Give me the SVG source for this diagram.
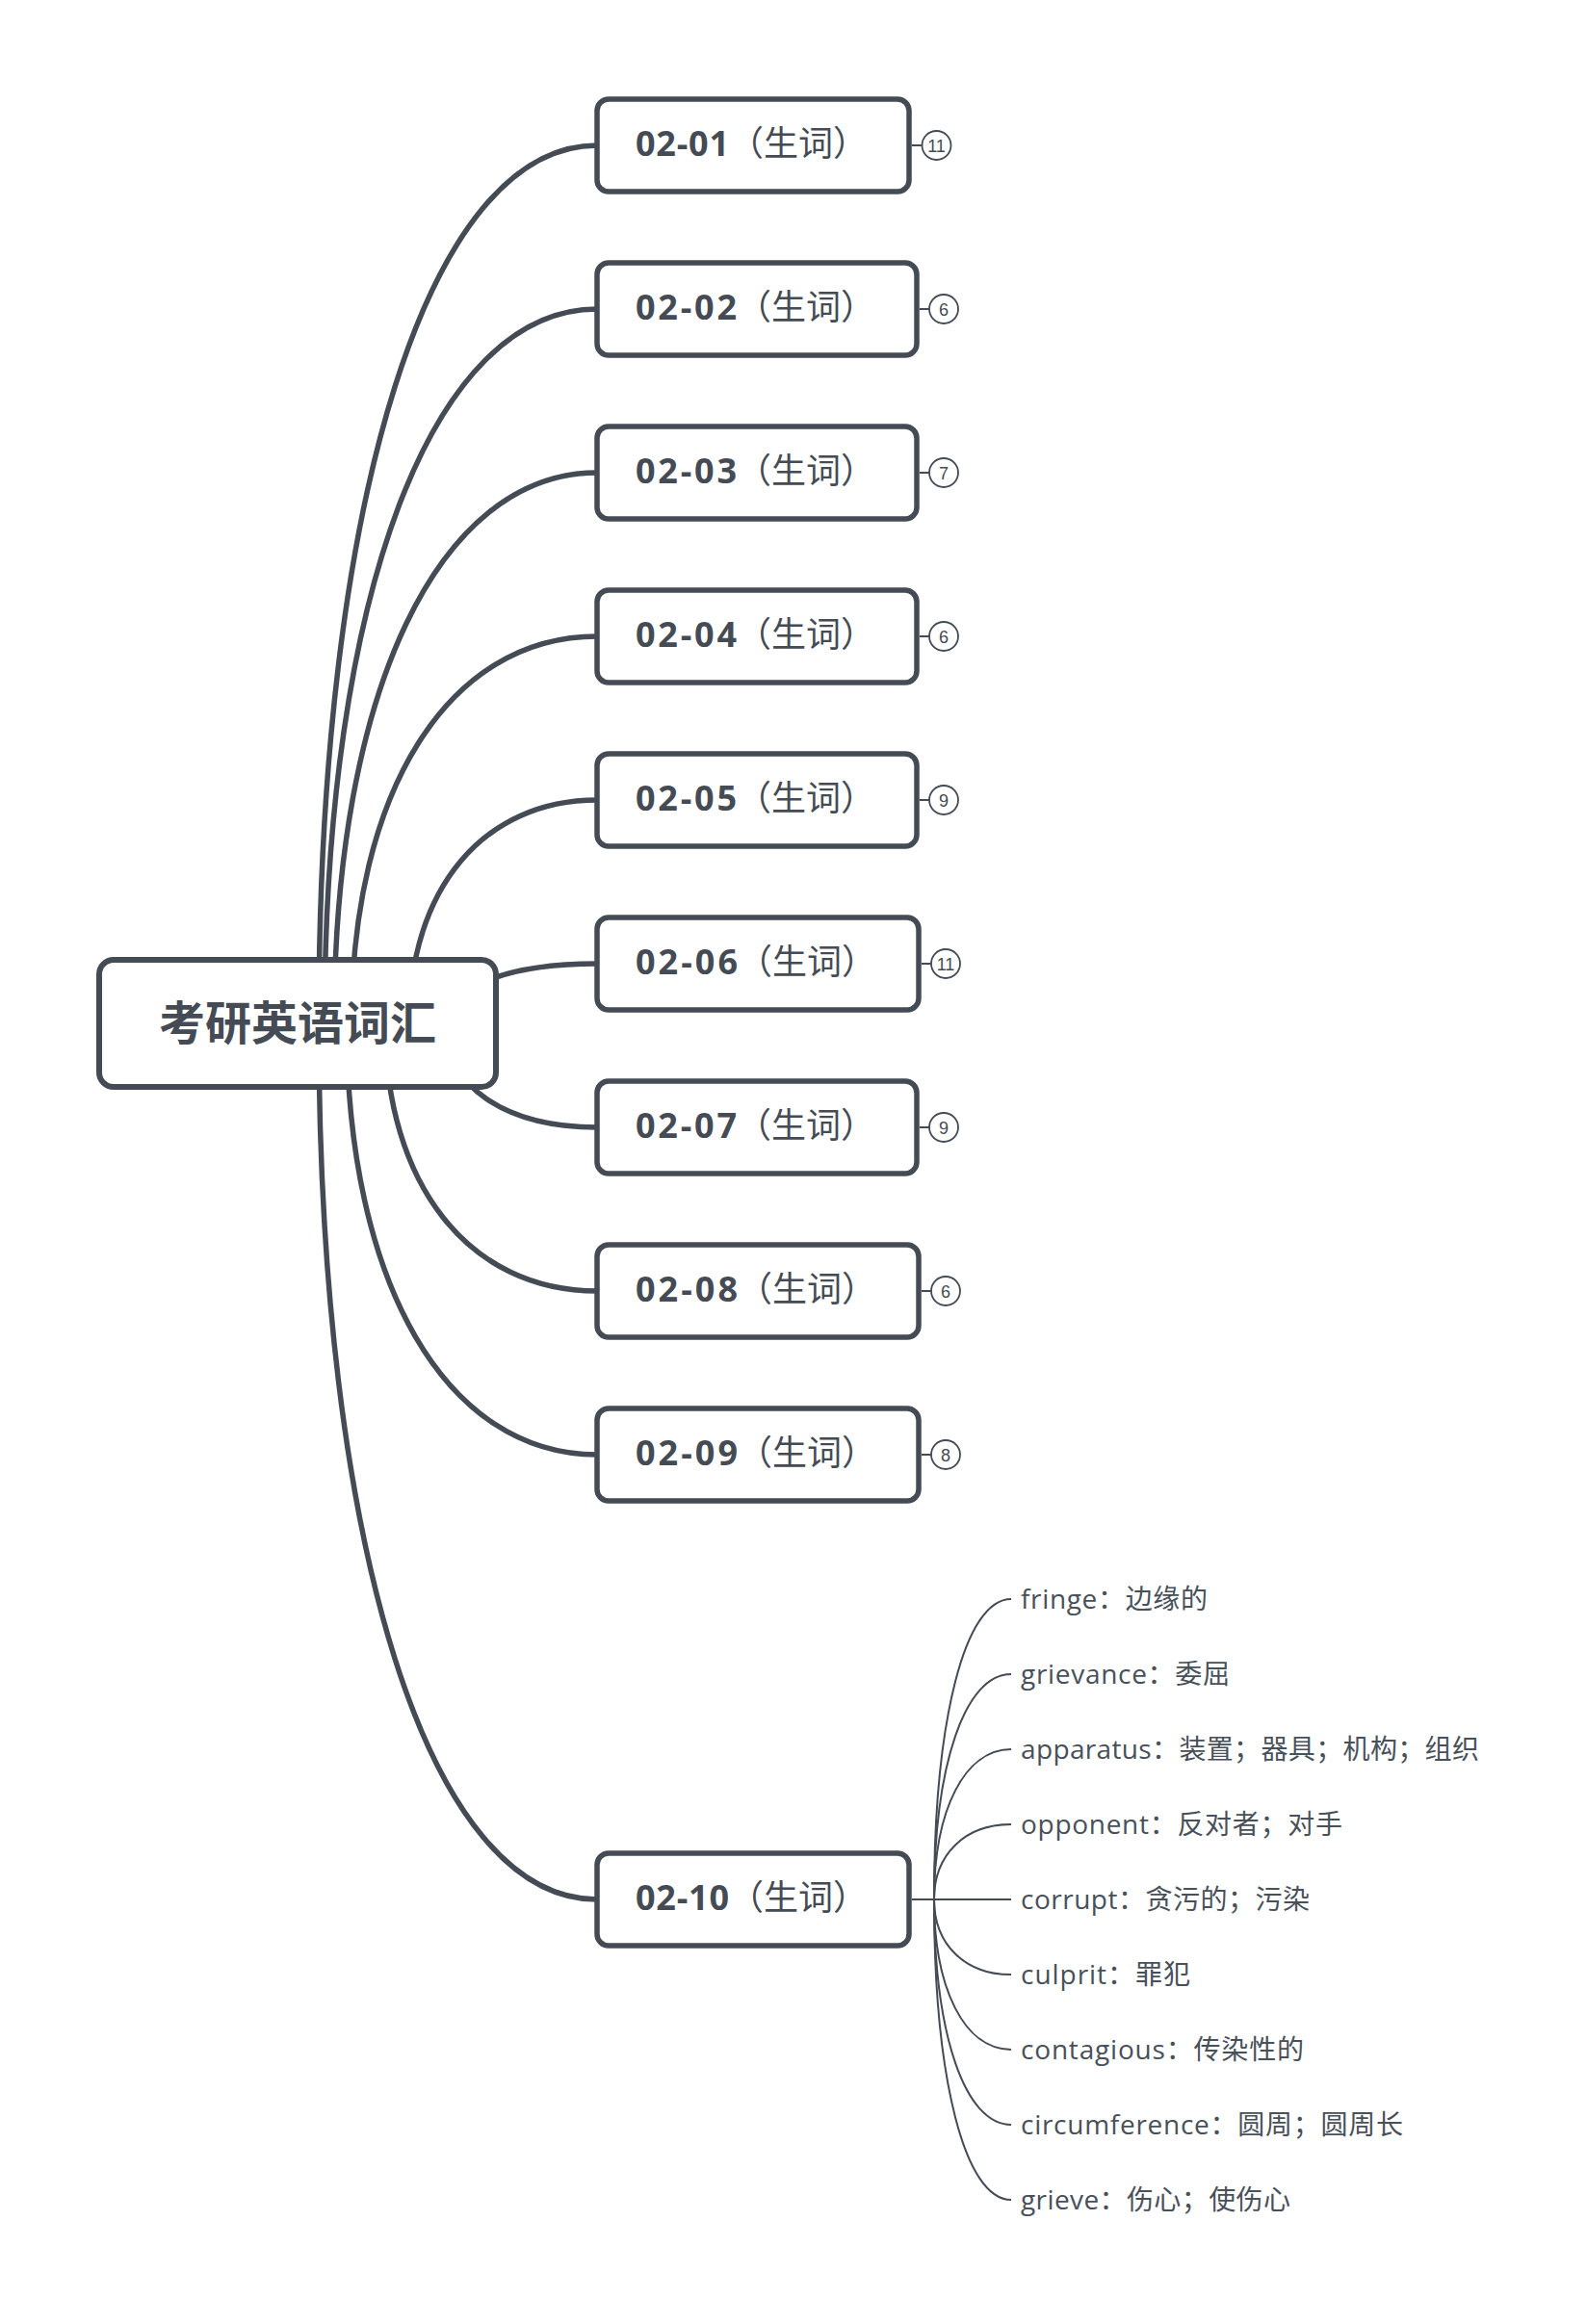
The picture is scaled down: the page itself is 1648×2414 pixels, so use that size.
<svg xmlns="http://www.w3.org/2000/svg" width="1648" height="2414" viewBox="0 0 1648 2414">
  <style>
    .bg { fill: #ffffff; }
    .main-line { fill: none; stroke: #444b55; stroke-width: 5.5; stroke-linecap: round; }
    .leaf-line { fill: none; stroke: #444b55; stroke-width: 2; }
    .badge-line { fill: none; stroke: #444b55; stroke-width: 2; }
    .root-box { fill: #ffffff; stroke: #444b55; stroke-width: 6; }
    .topic-box { fill: #ffffff; stroke: #444b55; stroke-width: 5.5; }
    .badge { fill: #ffffff; stroke: #444b55; stroke-width: 1.8; }
    .root-text { font-family: "Noto Sans CJK SC", "Noto Sans", sans-serif; font-size: 48px; font-weight: 700; fill: #444b55; }
    .topic-text { font-family: "Open Sans", "Noto Sans CJK SC", sans-serif; font-size: 36px; fill: #444b55; }
    .num { font-weight: 700; }
    .cjk { font-family: "Noto Sans CJK SC", sans-serif; font-weight: 400; }
    .badge-text { font-family: "Liberation Sans", Arial, sans-serif; font-size: 18px; fill: #444b55; }
    .leaf-text { font-family: "Open Sans", "Noto Sans CJK SC", sans-serif; font-size: 28px; fill: #48505a; }
  </style>

  <rect class="bg" x="0" y="0" width="1648" height="2414"/>

  <!-- connectors: root branches, count badges, word leaves -->
  <g id="connectors">
    <path class="main-line" d="M331,1063 C331,515.8 445.4,151 620,151"/>
    <path class="main-line" d="M337,1063 C337,617.8 449,321 620,321"/>
    <path class="main-line" d="M347,1063 C347,719.8 455,491 620,491"/>
    <path class="main-line" d="M365,1063 C365,821.8 465.8,661 620,661"/>
    <path class="main-line" d="M425,1063 C425,923.8 501.8,831 620,831"/>
    <path class="main-line" d="M465,1063 C465,1025.8 525.8,1001 620,1001"/>
    <path class="main-line" d="M462,1063 C462,1127.8 524,1171 620,1171"/>
    <path class="main-line" d="M400,1063 C400,1229.8 486.8,1341 620,1341"/>
    <path class="main-line" d="M360,1063 C360,1331.8 462.8,1511 620,1511"/>
    <path class="main-line" d="M331,1063 C331,1609 445.4,1973 620,1973"/>

    <line class="badge-line" x1="947" y1="151" x2="957.5" y2="151"/>
    <line class="badge-line" x1="955" y1="321" x2="965" y2="321"/>
    <line class="badge-line" x1="955" y1="491" x2="965" y2="491"/>
    <line class="badge-line" x1="955" y1="661" x2="965" y2="661"/>
    <line class="badge-line" x1="955" y1="831" x2="965" y2="831"/>
    <line class="badge-line" x1="957" y1="1001" x2="967" y2="1001"/>
    <line class="badge-line" x1="955" y1="1171" x2="965" y2="1171"/>
    <line class="badge-line" x1="957" y1="1341" x2="967" y2="1341"/>
    <line class="badge-line" x1="957" y1="1511" x2="967" y2="1511"/>

    <line class="leaf-line" x1="947" y1="1973" x2="1050" y2="1973"/>
    <path class="leaf-line" d="M970,1973 C970,1785.8 1002,1661 1050,1661"/>
    <path class="leaf-line" d="M970,1973 C970,1832.6 1002,1739 1050,1739"/>
    <path class="leaf-line" d="M970,1973 C970,1879.4 1002,1817 1050,1817"/>
    <path class="leaf-line" d="M970,1973 C970,1926.2 1002,1895 1050,1895"/>
    <path class="leaf-line" d="M970,1973 C970,2019.8 1002,2051 1050,2051"/>
    <path class="leaf-line" d="M970,1973 C970,2066.6 1002,2129 1050,2129"/>
    <path class="leaf-line" d="M970,1973 C970,2113.4 1002,2207 1050,2207"/>
    <path class="leaf-line" d="M970,1973 C970,2160.2 1002,2285 1050,2285"/>
  </g>

  <!-- central topic -->
  <g id="root">
    <rect class="root-box" x="103" y="997" width="412" height="132" rx="15"/>
    <text class="root-text" x="309" y="1080" text-anchor="middle">考研英语词汇</text>
  </g>

  <!-- main topics -->
  <g id="topic-0201">
    <rect class="topic-box" x="620" y="103" width="324" height="96" rx="12"/>
    <text class="topic-text" x="660" y="162"><tspan class="num" textLength="97">02-01</tspan><tspan class="cjk" x="757">（生词）</tspan></text>
    <circle class="badge" cx="972.5" cy="151" r="15"/>
    <text class="badge-text" x="972.5" y="157.5" text-anchor="middle">11</text>
  </g>
  <g id="topic-0202">
    <rect class="topic-box" x="620" y="273" width="332" height="96" rx="12"/>
    <text class="topic-text" x="660" y="332"><tspan class="num" textLength="105">02-02</tspan><tspan class="cjk" x="765">（生词）</tspan></text>
    <circle class="badge" cx="980" cy="321" r="15"/>
    <text class="badge-text" x="980" y="327.5" text-anchor="middle">6</text>
  </g>
  <g id="topic-0203">
    <rect class="topic-box" x="620" y="443" width="332" height="96" rx="12"/>
    <text class="topic-text" x="660" y="502"><tspan class="num" textLength="105">02-03</tspan><tspan class="cjk" x="765">（生词）</tspan></text>
    <circle class="badge" cx="980" cy="491" r="15"/>
    <text class="badge-text" x="980" y="497.5" text-anchor="middle">7</text>
  </g>
  <g id="topic-0204">
    <rect class="topic-box" x="620" y="613" width="332" height="96" rx="12"/>
    <text class="topic-text" x="660" y="672"><tspan class="num" textLength="105">02-04</tspan><tspan class="cjk" x="765">（生词）</tspan></text>
    <circle class="badge" cx="980" cy="661" r="15"/>
    <text class="badge-text" x="980" y="667.5" text-anchor="middle">6</text>
  </g>
  <g id="topic-0205">
    <rect class="topic-box" x="620" y="783" width="332" height="96" rx="12"/>
    <text class="topic-text" x="660" y="842"><tspan class="num" textLength="105">02-05</tspan><tspan class="cjk" x="765">（生词）</tspan></text>
    <circle class="badge" cx="980" cy="831" r="15"/>
    <text class="badge-text" x="980" y="837.5" text-anchor="middle">9</text>
  </g>
  <g id="topic-0206">
    <rect class="topic-box" x="620" y="953" width="334" height="96" rx="12"/>
    <text class="topic-text" x="660" y="1012"><tspan class="num" textLength="106">02-06</tspan><tspan class="cjk" x="766">（生词）</tspan></text>
    <circle class="badge" cx="982" cy="1001" r="15"/>
    <text class="badge-text" x="982" y="1007.5" text-anchor="middle">11</text>
  </g>
  <g id="topic-0207">
    <rect class="topic-box" x="620" y="1123" width="332" height="96" rx="12"/>
    <text class="topic-text" x="660" y="1182"><tspan class="num" textLength="105">02-07</tspan><tspan class="cjk" x="765">（生词）</tspan></text>
    <circle class="badge" cx="980" cy="1171" r="15"/>
    <text class="badge-text" x="980" y="1177.5" text-anchor="middle">9</text>
  </g>
  <g id="topic-0208">
    <rect class="topic-box" x="620" y="1293" width="334" height="96" rx="12"/>
    <text class="topic-text" x="660" y="1352"><tspan class="num" textLength="106">02-08</tspan><tspan class="cjk" x="766">（生词）</tspan></text>
    <circle class="badge" cx="982" cy="1341" r="15"/>
    <text class="badge-text" x="982" y="1347.5" text-anchor="middle">6</text>
  </g>
  <g id="topic-0209">
    <rect class="topic-box" x="620" y="1463" width="334" height="96" rx="12"/>
    <text class="topic-text" x="660" y="1522"><tspan class="num" textLength="106">02-09</tspan><tspan class="cjk" x="766">（生词）</tspan></text>
    <circle class="badge" cx="982" cy="1511" r="15"/>
    <text class="badge-text" x="982" y="1517.5" text-anchor="middle">8</text>
  </g>
  <g id="topic-0210">
    <rect class="topic-box" x="620" y="1925" width="324" height="96" rx="12"/>
    <text class="topic-text" x="660" y="1984"><tspan class="num" textLength="97">02-10</tspan><tspan class="cjk" x="757">（生词）</tspan></text>
  </g>

  <!-- vocabulary leaves under 02-10 -->
  <g id="leaf-fringe"><text class="leaf-text" x="1060" y="1671" textLength="194">fringe：边缘的</text></g>
  <g id="leaf-grievance"><text class="leaf-text" x="1060" y="1749" textLength="217">grievance：委屈</text></g>
  <g id="leaf-apparatus"><text class="leaf-text" x="1060" y="1827" textLength="476">apparatus：装置；器具；机构；组织</text></g>
  <g id="leaf-opponent"><text class="leaf-text" x="1060" y="1905" textLength="334">opponent：反对者；对手</text></g>
  <g id="leaf-corrupt"><text class="leaf-text" x="1060" y="1983" textLength="300">corrupt：贪污的；污染</text></g>
  <g id="leaf-culprit"><text class="leaf-text" x="1060" y="2061" textLength="176">culprit：罪犯</text></g>
  <g id="leaf-contagious"><text class="leaf-text" x="1060" y="2139" textLength="294">contagious：传染性的</text></g>
  <g id="leaf-circumference"><text class="leaf-text" x="1060" y="2217" textLength="397">circumference：圆周；圆周长</text></g>
  <g id="leaf-grieve"><text class="leaf-text" x="1060" y="2295" textLength="280">grieve：伤心；使伤心</text></g>
</svg>
